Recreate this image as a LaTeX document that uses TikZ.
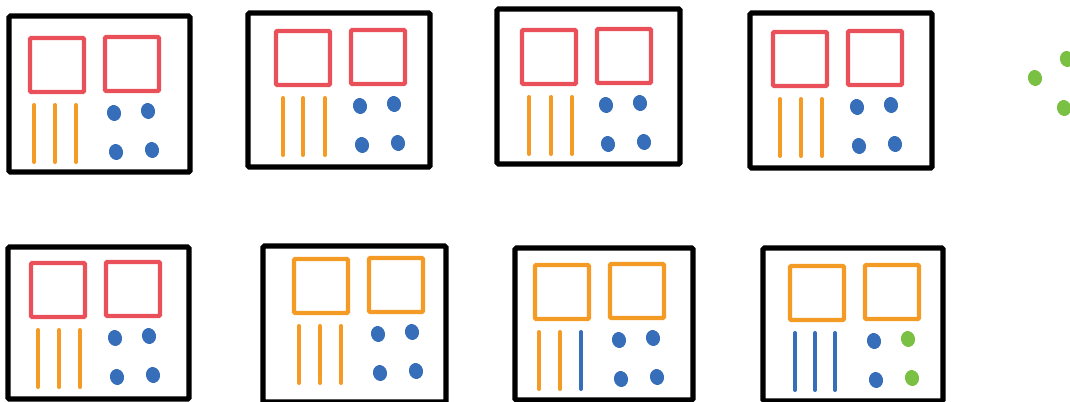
\documentclass[tikz,border=0pt]{standalone}
\usetikzlibrary{calc}
\definecolor{framecolor}{RGB}{0,0,0}
\definecolor{redcolor}{RGB}{234,80,90}
\definecolor{orangecolor}{RGB}{244,155,38}
\definecolor{bluecolor}{RGB}{55,110,185}
\definecolor{greencolor}{RGB}{122,192,67}
\tikzset{
panelframe/.style={
  draw=framecolor,
  line width=3.8pt,
  rounded corners=1pt
},
squarebox/.style={
  line width=3.3pt,
  rounded corners=1pt
},
bar/.style={
  line width=3pt,
  line cap=round
},
blob/.style={
  x radius=7,
  y radius=8,
  rotate=12
}
}
% frame corners, origin of contents, square colour, bars, right dot colour
\newcommand{\panel}[6]{%
  \draw[panelframe] #1 rectangle #2;
  \begin{scope}[shift={#3}]
    \draw[squarebox, draw=#4] (0,0) rectangle (54,54);
    \draw[squarebox, draw=#4] (75,-1) rectangle (129,53);
    \foreach \bx/\bc in {#5}
      \draw[bar, draw=\bc] (\bx,67) -- (\bx,124);
    \fill[bluecolor] (84,75) ellipse [blob];
    \fill[bluecolor] (86,114) ellipse [blob];
    \fill[#6] (118,73) ellipse [blob];
    \fill[#6] (122,112) ellipse [blob];
  \end{scope}}

\begin{document}
\begin{tikzpicture}[x=0.75pt, y=-0.75pt]
  \clip (0,0) rectangle (1070,401);
  \fill[white] (0,0) rectangle (1070,401);
  % top row
  \panel{(9,16)}{(190,172)}{(30,38)}{redcolor}%
    {4/orangecolor,25/orangecolor,46/orangecolor}{bluecolor}
  \panel{(248,13)}{(430,167)}{(276,31)}{redcolor}%
    {7/orangecolor,27/orangecolor,49/orangecolor}{bluecolor}
  \panel{(497,9)}{(680,164)}{(522,30)}{redcolor}%
    {7/orangecolor,29/orangecolor,50/orangecolor}{bluecolor}
  \panel{(750,13)}{(932,168)}{(773,32)}{redcolor}%
    {7/orangecolor,28/orangecolor,49/orangecolor}{bluecolor}
  % bottom row
  \panel{(8,247)}{(189,399)}{(31,263)}{redcolor}%
    {7/orangecolor,28/orangecolor,49/orangecolor}{bluecolor}
  \panel{(263,246)}{(446,402)}{(294,259)}{orangecolor}%
    {5/orangecolor,26/orangecolor,47/orangecolor}{bluecolor}
  \panel{(515,248)}{(693,400)}{(535,265)}{orangecolor}%
    {4/orangecolor,25/orangecolor,46/bluecolor}{bluecolor}
  \panel{(763,248)}{(943,401)}{(790,266)}{orangecolor}%
    {5/bluecolor,25/bluecolor,45/bluecolor}{greencolor}
  % loose dots at the right edge
  \fill[greencolor] (1035,78) ellipse [blob];
  \fill[greencolor] (1067,59) ellipse [blob];
  \fill[greencolor] (1064,108) ellipse [blob];
\end{tikzpicture}
\end{document}
